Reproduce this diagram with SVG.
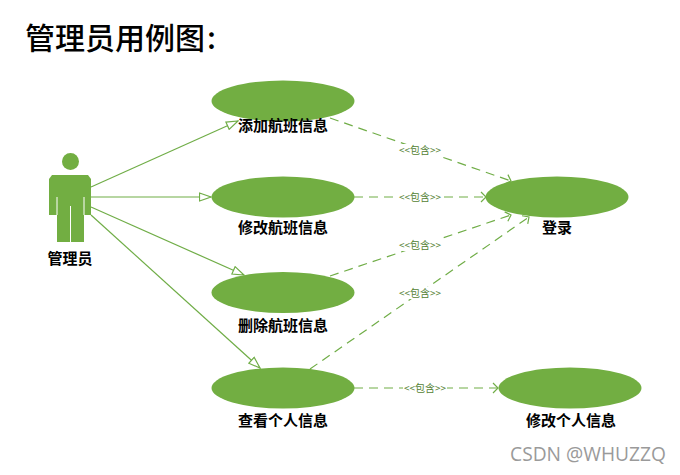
<svg xmlns="http://www.w3.org/2000/svg" width="680" height="475" viewBox="0 0 680 475">
<style>
.uc{fill:#72ae42}
.t{font-family:"Noto Sans CJK SC","Liberation Sans",sans-serif;font-size:15px;font-weight:700;fill:#000;text-anchor:middle}
.a{fill:none;stroke:#70ad47;stroke-width:1.200}
.d{fill:none;stroke:#70ad47;stroke-width:1.200;stroke-dasharray:9 6}
.l{font-family:"Noto Sans CJK SC","Liberation Sans",sans-serif;font-size:10px;fill:#548235;text-anchor:middle}
</style>
<defs>
<marker id="tri" markerWidth="14" markerHeight="10" refX="12.500" refY="5" orient="auto" markerUnits="userSpaceOnUse"><path d="M1 1L12.500 5L1 9Z" fill="#fff" stroke="#70ad47" stroke-width="1.200"/></marker>
<marker id="open" markerWidth="10" markerHeight="12" refX="8" refY="6" orient="auto" markerUnits="userSpaceOnUse"><path d="M3 1L8 6L3 11" fill="none" stroke="#70ad47" stroke-width="1.200"/></marker>
</defs>
<rect width="680" height="475" fill="#fff"/>
<text x="25" y="49" font-family="'Noto Sans CJK SC',sans-serif" font-size="30" font-weight="500" fill="#000">管理员用例图<tspan x="207">:</tspan></text>
<g id="connectors">
<path class="a" d="M91 187L238 121" marker-end="url(#tri)"/>
<path class="a" d="M91 197L211 197" marker-end="url(#tri)"/>
<path class="a" d="M91 207L244 275" marker-end="url(#tri)"/>
<path class="a" d="M91 215L260 368" marker-end="url(#tri)"/>
<path class="d" d="M330 118L511 181" marker-end="url(#open)"/>
<path class="d" d="M354 197L486 197" marker-end="url(#open)"/>
<path class="d" d="M330 276L511 215" marker-end="url(#open)"/>
<path class="d" d="M310 369L529 217" marker-end="url(#open)"/>
<path class="d" d="M354 388L498 388" marker-end="url(#open)"/>
<g>
<rect x="398" y="144" width="44" height="12" fill="#fff"/><text class="l" x="420" y="154">&lt;&lt;包含&gt;&gt;</text>
<rect x="398" y="191" width="44" height="12" fill="#fff"/><text class="l" x="420" y="201">&lt;&lt;包含&gt;&gt;</text>
<rect x="398" y="239" width="44" height="12" fill="#fff"/><text class="l" x="420" y="249">&lt;&lt;包含&gt;&gt;</text>
<rect x="398" y="287" width="44" height="12" fill="#fff"/><text class="l" x="420" y="297">&lt;&lt;包含&gt;&gt;</text>
<rect x="403" y="382" width="44" height="12" fill="#fff"/><text class="l" x="425" y="392">&lt;&lt;包含&gt;&gt;</text>
</g>
</g>
<g id="actor">
<circle cx="70.500" cy="161.500" r="8.500" fill="#72ae42"/>
<path d="M52 175H88L91 179V215H84V242H57V215H49V179Z" fill="#72ae42"/>
<path d="M57 197V215M84 197V215M70.500 206V242" stroke="#fff" stroke-width="1" fill="none"/>
<text class="t" x="70" y="264">管理员</text>
</g>
<g id="uc1"><ellipse class="uc" cx="283" cy="101" rx="71.500" ry="20.500"/><text class="t" x="283" y="131">添加航班信息</text></g>
<g id="uc2"><ellipse class="uc" cx="283" cy="197" rx="71.500" ry="20.500"/><text class="t" x="283" y="233">修改航班信息</text></g>
<g id="uc3"><ellipse class="uc" cx="283" cy="292.500" rx="71.500" ry="20.500"/><text class="t" x="283" y="331">删除航班信息</text></g>
<g id="uc4"><ellipse class="uc" cx="283" cy="388" rx="71.500" ry="20.500"/><text class="t" x="283" y="426">查看个人信息</text></g>
<g id="uc5"><ellipse class="uc" cx="557" cy="197" rx="71.500" ry="20.500"/><text class="t" x="557" y="233">登录</text></g>
<g id="uc6"><ellipse class="uc" cx="570" cy="388" rx="71.500" ry="20.500"/><text class="t" x="571" y="426">修改个人信息</text></g>
<text x="588" y="461" font-family="'Open Sans','Noto Sans',sans-serif" font-size="19.200" fill="#9a9a9a" text-anchor="middle">CSDN @WHUZZQ</text>
</svg>
